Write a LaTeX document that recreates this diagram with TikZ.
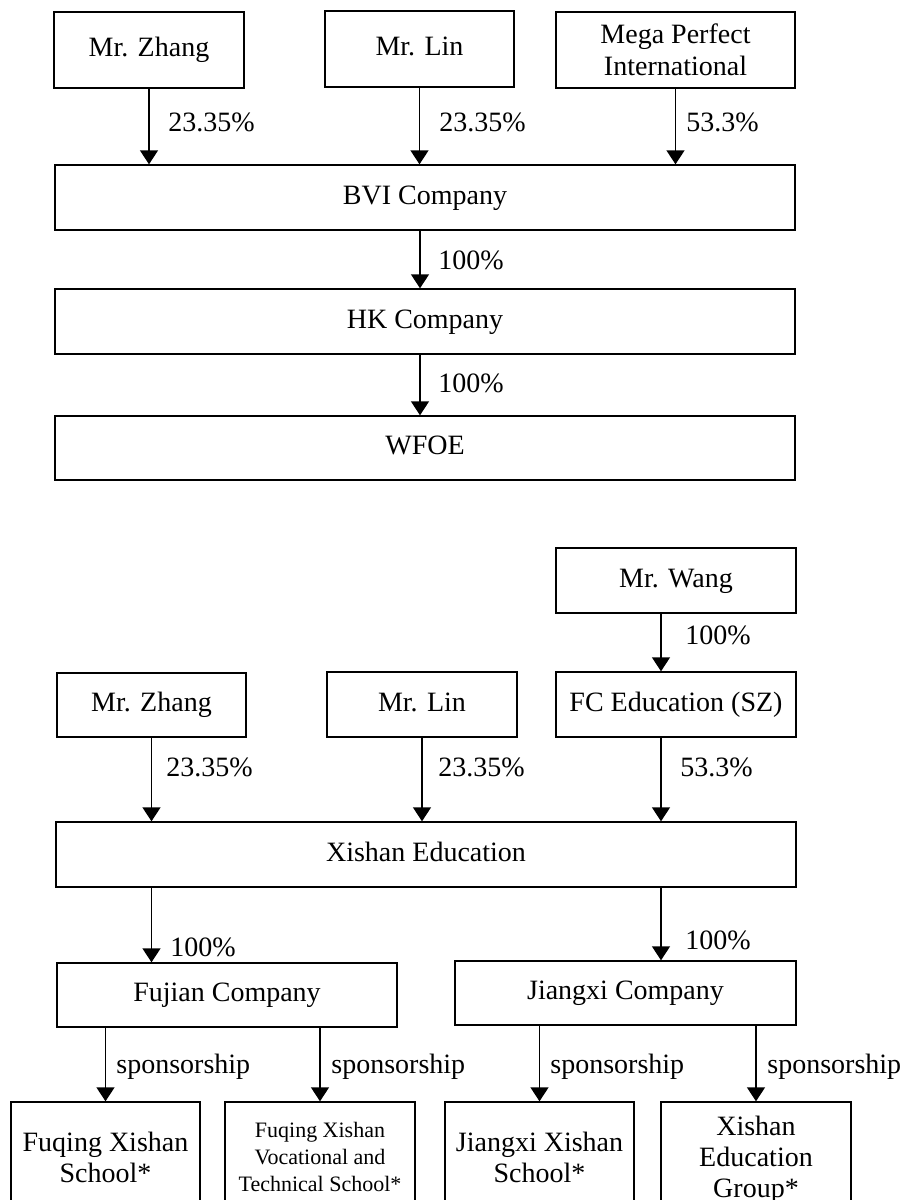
\documentclass[tikz,border=0pt]{standalone}
\usepackage{fontspec}
\setmainfont{Liberation Serif}
\usetikzlibrary{arrows.meta}
\begin{document}
\begin{tikzpicture}[x=0.5pt,y=-0.5pt,
  box/.style={draw, line width=0.7pt, inner sep=0pt, align=center, font=\fontsize{14}{15.5}\selectfont},
  one/.style={box, text height=0.75em, text depth=0.09em},
  smallbox/.style={box, font=\fontsize{11}{13.5}\selectfont},
  lbl/.style={inner sep=0pt, anchor=west, font=\fontsize{14}{16}\selectfont},
  arr/.style={draw, line width=0.7pt, -{Triangle[length=7pt,width=9pt]}}]
\useasboundingbox (0,0) rectangle (906,1200);
\clip (0,0) rectangle (906,1200);

% ---------- upper chart ----------
\node[one, minimum width=95pt, minimum height=38pt] (z1) at (149,50) {Mr. Zhang};
\node[one, minimum width=94.5pt, minimum height=38pt] (l1) at (419.5,49) {Mr. Lin};
\node[box, minimum width=119.5pt, minimum height=38pt, font=\fontsize{14}{16}\selectfont] (m1) at (675.5,50) {Mega Perfect\\International};
\node[one, minimum width=370pt, minimum height=32.5pt] (bvi) at (425,197.5) {BVI Company};
\node[one, minimum width=370pt, minimum height=32.5pt] (hk) at (425,321.5) {HK Company};
\node[one, minimum width=370pt, minimum height=32pt] (wfoe) at (425,448) {WFOE};

\coordinate (ax) at (420,0);
\draw[arr] (z1.south) -- (z1.south |- bvi.north);
\draw[arr] (l1.south) -- (l1.south |- bvi.north);
\draw[arr] (m1.south) -- (m1.south |- bvi.north);
\draw[arr] (ax |- bvi.south) -- (ax |- hk.north);
\draw[arr] (ax |- hk.south) -- (ax |- wfoe.north);

\node[lbl] (p1) at (168,122) {23.35\%};
\node[lbl] (p2) at (439,122) {23.35\%};
\node[lbl] (p3) at (686,122) {53.3\%};
\node[lbl] (p4) at (438,260) {100\%};
\node[lbl] (p5) at (438,383) {100\%};

% ---------- lower chart ----------
\node[one, minimum width=120pt, minimum height=32.5pt] (wang) at (676,580.5) {Mr. Wang};
\node[one, minimum width=94.5pt, minimum height=32pt] (z2) at (151.5,705) {Mr. Zhang};
\node[one, minimum width=95pt, minimum height=32.5pt] (l2) at (422,704.5) {Mr. Lin};
\node[one, minimum width=120pt, minimum height=32.5pt] (fc) at (676,704.5) {FC Education (SZ)};
\node[one, minimum width=370pt, minimum height=32.5pt] (xe) at (426,854.5) {Xishan Education};
\node[one, minimum width=170pt, minimum height=32pt] (fj) at (227,995) {Fujian Company};
\node[one, minimum width=170.5pt, minimum height=32pt] (jx) at (625.5,993) {Jiangxi Company};

\node[box, minimum width=94.5pt, minimum height=55pt] (b1) at (105.5,1157) {Fuqing Xishan\\School*};
\node[smallbox, minimum width=95pt, minimum height=55pt] (b2) at (320,1157) {Fuqing Xishan\\Vocational and\\Technical School*};
\node[box, minimum width=94.5pt, minimum height=55pt] (b3) at (539.5,1157) {Jiangxi Xishan\\School*};
\node[box, minimum width=95pt, minimum height=58pt] (b4) at (756,1160) {Xishan\\Education\\Group*};

\coordinate (bx) at (661,0);
\draw[arr] (bx |- wang.south) -- (bx |- fc.north);
\draw[arr] (z2.south) -- (z2.south |- xe.north);
\draw[arr] (l2.south) -- (l2.south |- xe.north);
\draw[arr] (bx |- fc.south) -- (bx |- xe.north);
\draw[arr] (z2.south |- xe.south) -- (z2.south |- fj.north);
\draw[arr] (bx |- xe.south) -- (bx |- jx.north);
\draw[arr] (b1.north |- fj.south) -- (b1.north);
\draw[arr] (b2.north |- fj.south) -- (b2.north);
\draw[arr] (b3.north |- jx.south) -- (b3.north);
\draw[arr] (b4.north |- jx.south) -- (b4.north);

\node[lbl] (q1) at (685,635) {100\%};
\node[lbl] (q2) at (166,767) {23.35\%};
\node[lbl] (q3) at (438,767) {23.35\%};
\node[lbl] (q4) at (680,767) {53.3\%};
\node[lbl] (q5) at (170,947) {100\%};
\node[lbl] (q6) at (685,940) {100\%};
\node[lbl] (s1) at (116,1067) {sponsorship};
\node[lbl] (s2) at (331,1067) {sponsorship};
\node[lbl] (s3) at (550,1067) {sponsorship};
\node[lbl] (s4) at (767,1067) {sponsorship};
\end{tikzpicture}
\end{document}
